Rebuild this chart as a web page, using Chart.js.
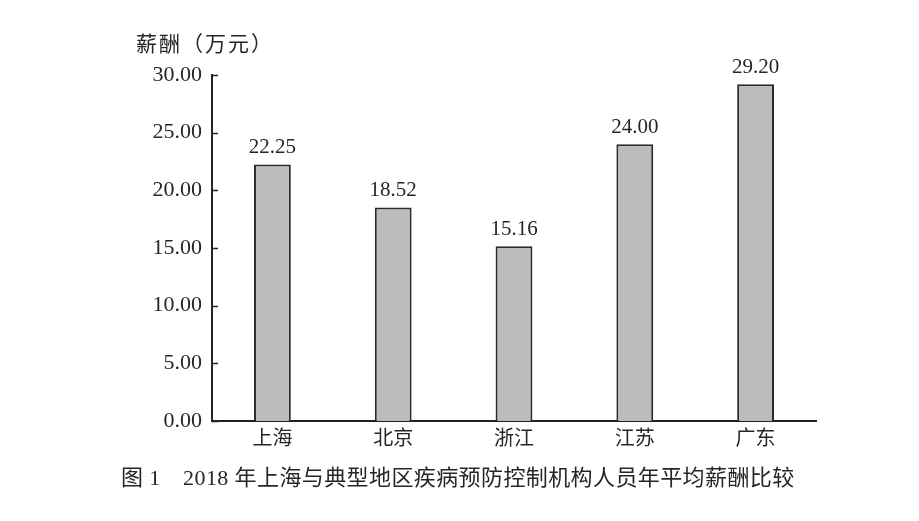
<!DOCTYPE html>
<html>
<head>
<meta charset="utf-8">
<script src="https://cdn.jsdelivr.net/npm/chart.js@4/dist/chart.umd.min.js"></script>
<style>
  html, body { margin: 0; padding: 0; background: #fff; }
  #wrap { position: relative; width: 919px; height: 521px; }
  canvas { position: absolute; left: 0; top: 0; }
  .txt { position: absolute; font-family: 'Liberation Serif', 'Noto Sans CJK SC', serif; color: #262626; white-space: nowrap; line-height: 1; }
  #ytitle { left: 136px; top: 34px; font-size: 21px; letter-spacing: 2px; }
  #caption { left: 121px; top: 467px; font-size: 22px; letter-spacing: 0.4px; }
</style>
</head>
<body>
<div id="wrap">
  <canvas id="c" width="919" height="521"></canvas>
  <div id="ytitle" class="txt">薪酬（万元）</div>
  <div id="caption" class="txt">图 1　2018 年上海与典型地区疾病预防控制机构人员年平均薪酬比较</div>
</div>
<script>
const categories = ['上海', '北京', '浙江', '江苏', '广东'];
const salaryValues = [22.25, 18.52, 15.16, 24.00, 29.20];
const yTickValues = [0, 5, 10, 15, 20, 25, 30];

const FONT = "'Liberation Serif', 'Noto Sans CJK SC', serif";

const valueLabels = {
  id: 'valueLabels',
  afterDatasetsDraw(chart) {
    const ctx = chart.ctx;
    const meta = chart.getDatasetMeta(0);
    ctx.save();
    ctx.font = '21px ' + FONT;
    ctx.fillStyle = '#262626';
    ctx.textAlign = 'center';
    ctx.textBaseline = 'alphabetic';
    meta.data.forEach((bar, i) => {
      ctx.fillText(salaryValues[i].toFixed(2), bar.x, bar.y - 11);
    });
    ctx.restore();
  }
};

const inwardTicks = {
  id: 'inwardTicks',
  afterDraw(chart) {
    const ctx = chart.ctx;
    const y = chart.scales.y;
    const x0 = chart.chartArea.left;
    ctx.save();
    ctx.strokeStyle = '#222';
    ctx.lineWidth = 1.5;
    yTickValues.forEach(v => {
      const py = Math.round(y.getPixelForValue(v)) + 0.5;
      ctx.beginPath();
      ctx.moveTo(x0, py);
      ctx.lineTo(x0 + 6, py);
      ctx.stroke();
    });
    ctx.restore();
  }
};

new Chart(document.getElementById('c'), {
  type: 'bar',
  data: {
    labels: categories,
    datasets: [{
      data: salaryValues,
      backgroundColor: '#bcbcbc',
      borderColor: '#2a2a2a',
      borderWidth: 2,
      borderSkipped: 'bottom',
      barPercentage: 0.61,
      categoryPercentage: 0.5
    }]
  },
  options: {
    responsive: false,
    animation: false,
    devicePixelRatio: 1,
    layout: { padding: { top: 75, right: 103, left: 0, bottom: 0 } },
    plugins: { legend: { display: false }, tooltip: { enabled: false } },
    scales: {
      x: {
        grid: { display: false, drawTicks: false },
        border: { display: true, color: '#222', width: 2 },
        ticks: { color: '#262626', font: { family: FONT, size: 20 }, padding: 7 },
        afterFit(scale) { scale.height = 100; }
      },
      y: {
        min: 0, max: 30,
        afterBuildTicks(scale) { scale.ticks = yTickValues.map(v => ({ value: v })); },
        grid: { display: false, drawTicks: false },
        border: { display: true, color: '#222', width: 2 },
        ticks: {
          color: '#262626',
          font: { family: FONT, size: 22 },
          padding: 10,
          callback: v => Number(v).toFixed(2)
        },
        afterFit(scale) { scale.width = 212; }
      }
    }
  },
  plugins: [valueLabels, inwardTicks]
});
</script>
</body>
</html>
